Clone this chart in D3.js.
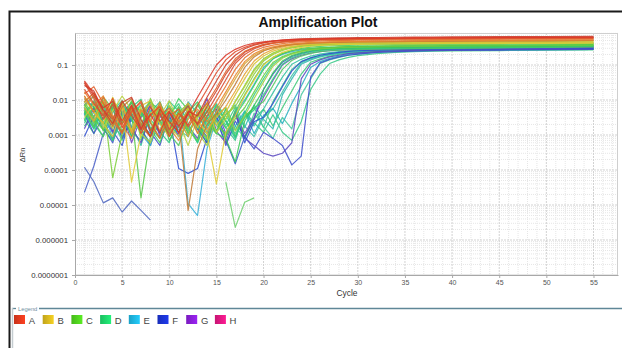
<!DOCTYPE html>
<html><head><meta charset="utf-8">
<script src="https://cdn.jsdelivr.net/npm/d3@7"></script>
<style>html,body{margin:0;padding:0;background:#fff;overflow:hidden}svg{display:block;font-family:"Liberation Sans",Arial,sans-serif}</style>
</head><body><svg id="c" width="622" height="348"></svg>
<script>
// ---------- data ----------
const cycles=[1,2,3,4,5,6,7,8,9,10,11,12,13,14,15,16,17,18,19,20,21,22,23,24,25,26,27,28,29,30,32,34,36,38,40,45,50,55];
const xTicks=[0,5,10,15,20,25,30,35,40,45,50,55];
const yTicks=[1e-7,1e-6,1e-5,1e-4,1e-3,1e-2,1e-1];
const yTickLabels=["0.0000001","0.000001","0.00001","0.0001","0.001","0.01","0.1"];
const legendLabels=["A","B","C","D","E","F","G","H"];
const legendColors=["#e0391d","#d9b91f","#4fd11f","#1fd66c","#1fb6e0","#1b33d2","#8a1fd8","#e01882"];

const wellR1=[.035,.015,.006,.009,.0025,.007,.0015,.004,.0012,.0045,
 .0018,.004,.012,.035,.1,.19,.28,.36,.42,.46,
 .49,.51,.53,.54,.55,.56,.565,.57,.575,.58,
 .585,.59,.595,.6,.6,.61,.615,.62];
const wellR2=[.02,.008,.0035,.011,.002,.006,.0011,.0038,.0065,.0014,
 .0042,.0019,.007,.02,.06,.14,.24,.32,.39,.44,
 .475,.5,.52,.53,.54,.55,.555,.56,.565,.57,
 .575,.58,.585,.59,.59,.595,.6,.6];
const wellR3=[.026,.018,.005,.0021,.0085,.012,.0028,.0009,.0055,.0024,
 .0012,.0048,.0035,.012,.035,.1,.19,.29,.37,.43,
 .48,.51,.54,.56,.57,.58,.59,.595,.6,.605,
 .61,.62,.625,.63,.635,.645,.65,.66];
const wellR4=[.015,.024,.008,.0032,.0012,.0045,.0095,.0022,.0008,.0034,
 .0055,.0017,.0039,.008,.022,.065,.15,.245,.32,.38,
 .42,.45,.47,.49,.5,.51,.52,.525,.53,.535,
 .54,.545,.55,.555,.555,.56,.565,.57];
const wellR5=[.03,.011,.0028,.0075,.0016,.0048,.0085,.0013,.0042,.0009,
 .0031,.0068,.0019,.0045,.013,.038,.11,.2,.29,.36,
 .42,.46,.49,.51,.53,.54,.55,.555,.56,.565,
 .57,.575,.58,.585,.585,.59,.595,.6];
const wellR6=[.013,.0045,.012,.0026,.0011,.0072,.0018,.0009,.0038,.0058,
 .0024,.0042,.0011,.0035,.009,.025,.075,.16,.25,.32,
 .37,.41,.44,.46,.475,.485,.495,.5,.505,.51,
 .515,.52,.525,.53,.535,.545,.55,.56];
const wellR7=[.032,.013,.0052,.0028,.0095,.0036,.0014,.0062,.0025,.0048,
 .0011,.0039,.0021,.0065,.018,.055,.13,.23,.31,.38,
 .43,.465,.49,.51,.525,.535,.545,.55,.555,.56,
 .565,.57,.575,.58,.583,.588,.594,.6];
const wellO1=[.017,.007,.013,.0036,.0019,.0008,.0052,.0024,.0085,.0016,
 .0007,.0028,.0055,.0024,.006,.017,.05,.125,.21,.28,
 .33,.37,.4,.42,.44,.45,.46,.465,.47,.475,
 .48,.485,.49,.495,.5,.505,.51,.52];
const wellO2=[.009,.016,.0042,.0018,.0062,.011,.0021,.0009,.0048,.0011,
 .0025,.000007,.0004,.002,.004,.01,.028,.085,.17,.25,
 .31,.35,.38,.4,.42,.43,.44,.445,.45,.455,
 .46,.465,.47,.475,.48,.485,.49,.5];
const wellO3=[.006,.0025,.0095,.0017,.007,.0011,.0045,.0075,.0013,.0052,
 .0029,.0009,.0046,.0014,.0032,.0065,.018,.055,.13,.21,
 .28,.33,.37,.4,.42,.435,.445,.455,.46,.465,
 .47,.475,.48,.485,.49,.495,.5,.5];
const wellY1=[.011,.0045,.0022,.012,.0028,.0014,.0068,.0095,.0021,.0009,
 .0038,.0058,.0016,.0082,.0019,.0045,.014,.04,.107,.18,
 .25,.3,.34,.37,.39,.4,.41,.415,.42,.42,
 .425,.43,.43,.435,.435,.44,.445,.45];
const wellY2=[.0032,.0078,.0016,.0048,.013,.0052,.0011,.0006,.0035,.0095,
 .0024,.0005,.0031,.0062,.0012,.0029,.009,.024,.068,.14,
 .21,.27,.32,.355,.38,.395,.405,.415,.42,.425,
 .43,.435,.44,.44,.445,.45,.455,.46];
const wellY3=[.013,.0045,.0021,.0009,.0065,.000045,.0011,.0042,.0068,.0018,
 .0009,.0055,.0028,.0011,.00004,.0012,.0035,.013,.037,.1,
 .165,.23,.28,.32,.345,.36,.37,.38,.385,.39,
 .395,.4,.4,.405,.405,.41,.415,.42];
const wellY4=[.0085,.0155,.0045,.0022,.0078,.0012,.0052,.0028,.0065,.0019,
 .0036,.0082,.0024,.0011,.0045,.014,.04,.108,.19,.26,
 .31,.35,.38,.4,.415,.425,.432,.438,.442,.445,
 .45,.453,.456,.46,.462,.468,.474,.48];
const wellG1=[.009,.0032,.0085,.00006,.0011,.0062,.0018,.011,.0026,.0012,
 .0045,.0078,.0019,.0008,.0048,.0028,.009,.026,.075,.15,
 .22,.28,.32,.35,.37,.38,.39,.395,.4,.4,
 .405,.41,.41,.41,.415,.415,.42,.42];
const wellG2=[.0048,.0017,.012,.0055,.0013,.0042,.000016,.0009,.0088,.0021,
 .0065,.0014,.0007,.0052,.0019,.0011,.0047,.014,.04,.105,
 .165,.215,.255,.285,.3,.315,.32,.33,.335,.34,
 .345,.35,.355,.355,.36,.365,.37,.38];
const wellG3=[.0042,.0095,.0024,.0007,.0038,.0085,.0046,.0015,.0006,.0032,
 .011,.0052,.0018,.0007,.0042,.0016,.0036,.009,.026,.075,
 .15,.21,.26,.3,.325,.34,.35,.36,.365,.37,
 .375,.38,.38,.385,.385,.39,.395,.4];
const wellG4=[.0075,.0028,.0014,.0082,.0021,.0095,.0008,.0036,.0068,.0012,
 .0048,.0011,.0033,.0082,.0025,.0009,.0029,.006,.017,.05,
 .118,.175,.22,.255,.28,.3,.31,.32,.325,.33,
 .335,.34,.345,.345,.35,.355,.36,.37];
const wellG5=[.0062,.013,.0035,.0015,.0085,.0014,.0058,.0025,.0008,.0072,
 .0018,.0055,.0012,.0005,.0035,.0062,.0013,.0035,.011,.033,
 .092,.155,.205,.245,.275,.295,.31,.32,.33,.335,
 .34,.345,.35,.355,.36,.365,.37,.38];
const wellG6=[.0028,.0065,.0013,.0095,.0042,.0009,.0035,.0085,.0052,.0007,
 .0019,.0045,.0088,.0032,.0011,.0008,.00017,.0025,.007,.02,
 .06,.13,.185,.225,.255,.275,.29,.3,.305,.31,
 .315,.32,.325,.33,.33,.335,.34,.35];
const wellG7=[.0045,.0015,.0072,.0029,.0011,.0062,.0105,.0016,.0008,.0038,
 .0078,.0022,.0006,.0028,.0065,.0025,.0009,.0031,.0052,.014,
 .04,.105,.16,.205,.235,.26,.275,.285,.29,.295,
 .3,.305,.31,.315,.315,.32,.33,.34];
const wellG8=[.006,.0025,.0009,.0068,.0021,.0092,.0042,.0014,.0048,.0011,
 .0005,.0032,.0072,.0026,.0013,.0055,.0009,.0035,.0058,.009,
 .026,.075,.135,.18,.215,.24,.255,.265,.275,.28,
 .285,.29,.295,.3,.3,.31,.32,.33];
const wellG9=[.0055,.0022,.0095,.0033,.0012,.0058,.0026,.0009,.0065,.0018,
 .0042,.0014,.0078,.0025,.0011,.0038,.0065,.018,.055,.13,
 .2,.26,.31,.34,.36,.375,.385,.39,.395,.398,
 .4,.4,.402,.404,.405,.407,.408,.41];
const wellG10=[.0038,.0082,.0019,.0052,.0095,.0028,.0012,.0046,.0021,.0068,
 .0031,.0009,.0044,.0018,.0075,.0035,.0014,.0042,.014,.04,
 .105,.165,.21,.245,.27,.285,.298,.306,.312,.316,
 .322,.326,.33,.333,.336,.342,.35,.36];
const wellT1=[.0036,.0085,.0022,.0009,.0058,.0018,.0005,.0045,.0088,.0019,
 .0062,.0011,.0038,.0015,.0072,.0024,.0008,.0046,.0018,.0055,
 .016,.045,.105,.145,.18,.205,.225,.24,.255,.262,
 .272,.28,.285,.29,.295,.3,.31,.32];
const wellT2=[.0022,.0058,.0095,.0026,.0007,.0032,.0072,.0028,.0013,.0092,
 .0048,.0016,.0006,.0035,.0078,.0026,.0011,.0033,.0062,.0016,
 .009,.026,.075,.125,.16,.19,.21,.23,.245,.255,
 .265,.272,.278,.283,.287,.293,.3,.31];
const wellT3=[.0052,.0021,.0009,.0045,.0082,.0025,.0014,.0006,.0032,.0068,
 .0019,.0088,.0041,.0012,.0035,.0008,.0052,.0016,.0072,.0028,
 .0015,.014,.04,.105,.14,.17,.195,.215,.23,.24,
 .255,.263,.27,.275,.278,.285,.292,.3];
const wellT4=[.0028,.0011,.0072,.0022,.0058,.0009,.0042,.0095,.0021,.0011,
 .0039,.0072,.0016,.0006,.0048,.0019,.0062,.0008,.0029,.0055,
 .0018,.006,.018,.055,.12,.15,.18,.2,.217,.23,
 .245,.257,.265,.27,.275,.283,.29,.3];
const wellT5=[.0072,.0032,.0015,.0007,.0035,.0068,.0019,.0011,.0055,.0022,
 .0009,.0042,.0014,.0065,.0025,.0006,.0018,.0048,.0011,.0036,
 .0058,.0021,.008,.025,.085,.125,.155,.18,.2,.215,
 .235,.248,.255,.26,.264,.27,.275,.28];
const wellT6=[.0025,.0062,.0021,.0078,.0032,.0012,.0007,.0036,.0065,.0026,
 .0014,.0009,.0048,.0021,.0011,.0058,.0018,.0008,.0042,.0017,
 .0008,.0032,.0015,.014,.04,.11,.14,.165,.19,.205,
 .228,.242,.25,.256,.26,.267,.273,.28];
const wellT7=[.0018,.0045,.0085,.0019,.0009,.0042,.0072,.0022,.0012,.0006,
 .0036,.0062,.0019,.0011,.0042,.0016,.0007,.0048,.0022,.0012,
 .0038,.0012,.0007,.0024,.02,.055,.11,.14,.165,.185,
 .21,.228,.24,.247,.252,.258,.264,.27];
const wellT8=[.0062,.0018,.0042,.0011,.0075,.0032,.0016,.0052,.0024,.0009,
 .0035,.0068,.0022,.0048,.0013,.0039,.0072,.0018,.0009,.0031,
 .0055,.017,.05,.115,.15,.18,.2,.218,.232,.242,
 .256,.265,.271,.276,.279,.286,.293,.3];
const wellB1=[.011,.0062,.0016,.0006,.0042,.0085,.0015,.0005,.0032,.0065,
 .0011,.0045,.0019,.0009,.0052,.0007,.00015,.0009,.0028,.02,
 .055,.12,.175,.215,.245,.265,.28,.29,.295,.3,
 .305,.31,.312,.315,.318,.32,.325,.33];
const wellB2=[.0009,.0035,.0068,.0013,.0005,.0042,.0018,.0075,.0011,.0036,
 .00011,.00008,.00011,.0008,.0032,.0009,.0045,.0006,.0024,.0032,
 .008,.024,.068,.125,.16,.19,.21,.23,.245,.255,
 .265,.272,.278,.282,.285,.29,.295,.3];
const wellB3=[.0015,.0058,.0022,.0008,.0048,.0016,.0006,.0038,.0072,.0013,
 .0045,.0018,.0008,.0035,.0055,.0011,.0038,.0008,.0005,.0003,
 .00025,.0003,.0006,.04,.105,.14,.17,.19,.21,.222,
 .24,.252,.26,.266,.27,.276,.282,.29];
const wellB4=[.0042,.0011,.0032,.0062,.0008,.0028,.0052,.0012,.0005,.0036,
 .0009,.0045,.0015,.0006,.0032,.0005,.0025,.0009,.0004,.0012,
 .0008,.0005,.00014,.00025,.045,.115,.145,.17,.19,.205,
 .228,.242,.25,.256,.26,.267,.273,.28];
const wellC1=[.0042,.0015,.0072,.0007,.0032,.0065,.0011,.0005,.0042,.0013,
 .0052,.000011,.000005,.0004,.0028,.0009,.0045,.01,.028,.085,
 .15,.2,.24,.27,.29,.305,.315,.32,.325,.33,
 .335,.338,.34,.342,.345,.35,.355,.36];
const wellV1=[.0072,.013,.0036,.0012,.0048,.0006,.0032,.0068,.0009,.0042,
 .0016,.0058,.0022,.011,.0013,.0006,.0042,.0011,.0032,.012,
 .036,.1,.15,.19,.22,.24,.255,.265,.272,.278,
 .285,.29,.295,.298,.3,.305,.31,.32];
// partial traces (wells without amplification)
const wellF1=[.00012,.000046,.0000115,.000016,.0000063,.000013,.000007,.0000037];
const wellF2=[null,null,null,null,null,null,null,null,null,null,
 null,null,null,null,null,.000045,.0000023,.000012,.000016];
const wellF3=[.000023,.00013,.0011,.0025,.0012,.0031,.0018,.0009,.0024,.0015,
 .0032,.0012];

// drawing order (back to front) and line colours
const series=[
 [wellF3,"#4a60c8"],[wellF1,"#5068c0"],[wellF2,"#70d070"],
 [wellT8,"#40c0a8"],[wellT7,"#38c888"],[wellT6,"#48c8a0"],[wellT5,"#28b0c0"],[wellT4,"#3cc878"],[wellT3,"#30b8b0"],[wellT2,"#40c890"],[wellT1,"#30c0a0"],
 [wellB4,"#4050cc"],[wellB3,"#5a48c0"],[wellB2,"#3050d0"],[wellB1,"#3a5ac8"],[wellV1,"#7048c0"],[wellC1,"#38b0d8"],
 [wellG10,"#3ccf88"],[wellG9,"#88d040"],
 [wellG8,"#50c860"],[wellG7,"#30d080"],[wellG6,"#38c858"],[wellG5,"#a0d040"],[wellG4,"#68d040"],[wellG3,"#40d060"],[wellG2,"#58c848"],[wellG1,"#7ccf3a"],
 [wellY4,"#d8a838"],[wellY3,"#e0cc3a"],[wellY2,"#b8d040"],[wellY1,"#d8c030"],
 [wellO3,"#e8a030"],[wellO2,"#c07a38"],[wellO1,"#e8862e"],
 [wellR7,"#d44428"],[wellR6,"#e4702e"],[wellR5,"#d84830"],[wellR4,"#e0602c"],[wellR3,"#cc3a28"],[wellR2,"#e04a2a"],[wellR1,"#d9382a"]
];

// ---------- chart ----------
const svg=d3.select("#c");
const x=d3.scaleLinear().domain([0,57.6]).range([75,618]);
const y=d3.scaleLog().domain([1e-7,0.82]).range([275,33]);

// grid
const g=svg.append("g");
const minorX=d3.range(1,58).filter(d=>d%5!==0);
const minorY=[];
for(let e=-7;e<=-1;e++){for(let m=2;m<=9;m++){const v=m*Math.pow(10,e);if(v<0.82)minorY.push(v);}}
g.selectAll(".mx").data(minorX).join("line").attr("x1",d=>x(d)).attr("x2",d=>x(d)).attr("y1",33).attr("y2",275)
 .attr("stroke","#e6e6e6").attr("stroke-dasharray","1,1");
g.selectAll(".my").data(minorY).join("line").attr("x1",75).attr("x2",618).attr("y1",d=>y(d)).attr("y2",d=>y(d))
 .attr("stroke","#e6e6e6").attr("stroke-dasharray","1,1");
g.selectAll(".Mx").data(xTicks.slice(1)).join("line").attr("x1",d=>x(d)).attr("x2",d=>x(d)).attr("y1",33).attr("y2",275)
 .attr("stroke","#d2d2d2").attr("stroke-dasharray","2,1");
g.selectAll(".My").data(yTicks.slice(1)).join("line").attr("x1",75).attr("x2",618).attr("y1",d=>y(d)).attr("y2",d=>y(d))
 .attr("stroke","#d2d2d2").attr("stroke-dasharray","2,1");
svg.append("rect").attr("x",75.5).attr("y",33.5).attr("width",542).attr("height",241.5)
 .attr("fill","none").attr("stroke","#cfcfcf");

// curves
const line=d3.line().defined(d=>d.v!=null&&d.v>0).x(d=>x(d.c)).y(d=>y(d.v));
const lg=svg.append("g").attr("fill","none").attr("stroke-width",1.2).attr("stroke-linejoin","round").attr("stroke-opacity",0.88);
series.forEach(([vals,col])=>{
 const pts=vals.map((v,i)=>({c:cycles[i],v:v}));
 lg.append("path").attr("d",line(pts)).attr("stroke",col);
});

// axes
const ya=svg.append("g").attr("transform","translate(75,0)")
 .call(d3.axisLeft(y).tickValues(yTicks).tickFormat((d,i)=>yTickLabels[i]).tickSize(3).tickSizeOuter(0).tickPadding(4));
const xa=svg.append("g").attr("transform","translate(0,275)")
 .call(d3.axisBottom(x).tickValues(xTicks).tickSize(3).tickSizeOuter(0).tickPadding(2));
[ya,xa].forEach(a=>{a.select(".domain").attr("stroke","#a8a8a8");a.selectAll(".tick line").attr("stroke","#a8a8a8");});
ya.selectAll("text").attr("font-size","7.8px").attr("fill","#333").attr("font-family","Liberation Sans, Arial, sans-serif");
xa.selectAll("text").attr("font-size","7px").attr("fill","#555").attr("font-family","Liberation Sans, Arial, sans-serif");

svg.append("text").attr("x",347).attr("y",296).attr("text-anchor","middle").attr("font-size","8.4px").attr("fill","#333").text("Cycle");
svg.append("text").attr("transform","translate(25,155) rotate(-90)").attr("text-anchor","middle").attr("font-size","7.5px").attr("fill","#333").text("ΔRn");

// title and frame
svg.append("text").attr("x",318).attr("y",26.5).attr("text-anchor","middle").attr("font-size","14px").attr("font-weight","bold").attr("fill","#111").text("Amplification Plot");
svg.append("path").attr("d","M9.5,348V11.5H622").attr("fill","none").attr("stroke","#1a1a1a").attr("stroke-width",2);

// legend
svg.append("line").attr("x1",12).attr("x2",16).attr("y1",308.5).attr("y2",308.5).attr("stroke","#5f8797").attr("stroke-width",1.3);
svg.append("line").attr("x1",39).attr("x2",622).attr("y1",308.5).attr("y2",308.5).attr("stroke","#5f8797").attr("stroke-width",1.3);
svg.append("line").attr("x1",12.5).attr("x2",12.5).attr("y1",308).attr("y2",348).attr("stroke","#c4ccd0").attr("stroke-width",1.5);
svg.append("text").attr("x",18).attr("y",310.5).attr("font-size","5.8px").attr("fill","#6f8f9f").text("Legend");
const defs=svg.append("defs");
legendColors.forEach((c,i)=>{
 const gr=defs.append("linearGradient").attr("id","lg"+i);
 gr.append("stop").attr("offset","0%").attr("stop-color",d3.color(c).darker(0.35));
 gr.append("stop").attr("offset","100%").attr("stop-color",d3.color(c).brighter(0.35));
});
const leg=svg.append("g").selectAll("g").data(legendLabels).join("g")
 .attr("transform",(d,i)=>`translate(${14+i*28.7},315)`);
leg.append("rect").attr("width",11).attr("height",9).attr("fill",(d,i)=>`url(#lg${i})`);
leg.append("text").attr("x",14.7).attr("y",8.8).attr("font-size","9.5px").attr("fill","#444").text(d=>d);
</script></body></html>
